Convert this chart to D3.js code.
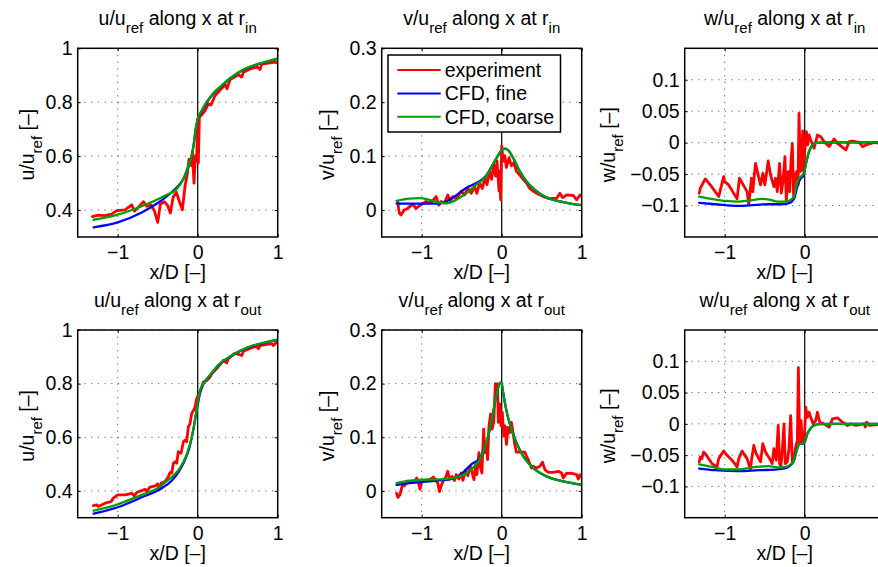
<!DOCTYPE html>
<html><head><meta charset="utf-8">
<script src="https://cdn.jsdelivr.net/npm/d3@7"></script>
<style>
html,body{margin:0;padding:0;background:#fff;overflow:hidden}
svg{display:block;font-family:"Liberation Sans",Arial,Helvetica,sans-serif}
</style></head><body>
<svg id="chart" width="878" height="567"></svg>
<script>
// ---------------- DATA ----------------
const xDomain = [-1.5, 1];
const xTicks = [-1, 0, 1];
const xTickLabels = ["\u22121", "0", "1"];
const uDomain = [0.3, 1];
const uTicks = [0.4, 0.6, 0.8, 1];
const uTickLabels = ["0.4", "0.6", "0.8", "1"];
const vDomain = [-0.05, 0.3];
const vTicks = [0, 0.1, 0.2, 0.3];
const vTickLabels = ["0", "0.1", "0.2", "0.3"];
const wDomain = [-0.15, 0.15];
const wTicks = [-0.1, -0.05, 0, 0.05, 0.1];
const wTickLabels = ["\u22120.1", "\u22120.05", "0", "0.05", "0.1"];
const seriesNames = ["experiment", "CFD, fine", "CFD, coarse"];

// u at r_in
const uInExp = [[-1.317,0.376],[-1.242,0.381],[-1.158,0.379],[-1.075,0.385],[-1.013,0.398],[-0.908,0.401],[-0.825,0.419],[-0.79,0.396],[-0.742,0.41],[-0.679,0.431],[-0.638,0.414],[-0.583,0.419],[-0.542,0.398],[-0.5,0.354],[-0.467,0.422],[-0.417,0.431],[-0.375,0.416],[-0.342,0.389],[-0.308,0.447],[-0.267,0.466],[-0.225,0.428],[-0.192,0.401],[-0.158,0.49],[-0.133,0.528],[-0.108,0.589],[-0.083,0.565],[-0.067,0.614],[-0.046,0.50],[-0.029,0.602],[-0.013,0.583],[0,0.738],[0.008,0.575],[0.021,0.744],[0.05,0.753],[0.092,0.769],[0.133,0.794],[0.167,0.79],[0.217,0.825],[0.3,0.852],[0.35,0.864],[0.367,0.85],[0.404,0.884],[0.508,0.902],[0.55,0.893],[0.571,0.911],[0.675,0.926],[0.75,0.93],[0.779,0.921],[0.8,0.941],[0.904,0.946],[0.967,0.949],[1.0,0.945]];
const uInFine = [[-1.3,0.336],[-1.0,0.354],[-0.7,0.391],[-0.49,0.428],[-0.325,0.466],[-0.242,0.49],[-0.179,0.515],[-0.129,0.552],[-0.075,0.6],[-0.046,0.651],[-0.025,0.701],[0,0.736],[0.05,0.766],[0.11,0.797],[0.2,0.833],[0.3,0.861],[0.4,0.887],[0.55,0.917],[0.758,0.941],[1.0,0.961]];
const uInCoarse = [[-1.3,0.364],[-1.0,0.383],[-0.7,0.414],[-0.41,0.453],[-0.263,0.478],[-0.179,0.515],[-0.129,0.552],[-0.075,0.6],[-0.046,0.651],[-0.025,0.701],[0,0.738],[0.05,0.769],[0.11,0.8],[0.2,0.835],[0.3,0.862],[0.4,0.888],[0.55,0.918],[0.758,0.942],[1.0,0.962]];

// v at r_in
const vInExp = [[-1.301,0.016],[-1.28,-0.006],[-1.259,-0.009],[-1.218,0],[-1.176,0.003],[-1.113,0.011],[-1.071,0.003],[-1.029,0.008],[-0.996,0.011],[-0.946,0.016],[-0.904,0.013],[-0.862,0.017],[-0.82,0.025],[-0.787,0.009],[-0.757,0.016],[-0.715,0.013],[-0.674,0.028],[-0.644,0.017],[-0.611,0.025],[-0.561,0.022],[-0.506,0.035],[-0.464,0.028],[-0.423,0.041],[-0.381,0.031],[-0.339,0.044],[-0.31,0.031],[-0.276,0.05],[-0.243,0.04],[-0.209,0.06],[-0.184,0.047],[-0.151,0.072],[-0.126,0.057],[-0.1,0.085],[-0.075,0.063],[-0.059,0.091],[-0.033,0.035],[-0.025,0.072],[-0.013,0.019],[0,0.119],[0.017,0.091],[0.038,0.101],[0.059,0.079],[0.092,0.097],[0.121,0.082],[0.151,0.088],[0.184,0.072],[0.226,0.065],[0.268,0.057],[0.31,0.05],[0.351,0.04],[0.393,0.035],[0.435,0.031],[0.519,0.025],[0.561,0.023],[0.603,0.021],[0.686,0.022],[0.728,0.031],[0.762,0.023],[0.812,0.028],[0.895,0.027],[0.937,0.019],[0.979,0.028],[1.0,0.025]];
const vInFine = [[-1.314,0.012],[-1.0,0.012],[-0.778,0.012],[-0.695,0.016],[-0.569,0.027],[-0.444,0.041],[-0.318,0.05],[-0.192,0.064],[-0.109,0.085],[-0.046,0.101],[0,0.111],[0.038,0.114],[0.079,0.111],[0.142,0.097],[0.226,0.072],[0.31,0.053],[0.435,0.035],[0.561,0.023],[0.728,0.016],[0.895,0.011],[1.0,0.009]];
const vInCoarse = [[-1.314,0.017],[-1.155,0.021],[-1.029,0.022],[-0.904,0.019],[-0.778,0.014],[-0.695,0.0126],[-0.569,0.019],[-0.444,0.031],[-0.318,0.047],[-0.192,0.063],[-0.109,0.085],[-0.046,0.101],[0,0.111],[0.038,0.114],[0.079,0.111],[0.142,0.097],[0.226,0.072],[0.31,0.053],[0.435,0.035],[0.561,0.023],[0.728,0.016],[0.895,0.011],[1.0,0.009]];

// w at r_in
const wInExp = [[-1.318,-0.0804],[-1.305,-0.0725],[-1.243,-0.0577],[-1.18,-0.0672],[-1.075,-0.0857],[-1.013,-0.054],[-1.0,-0.0619],[-0.95,-0.0672],[-0.845,-0.0894],[-0.816,-0.0566],[-0.791,-0.0619],[-0.72,-0.0778],[-0.699,-0.0979],[-0.665,-0.0566],[-0.649,-0.0778],[-0.615,-0.0328],[-0.582,-0.0513],[-0.552,-0.0672],[-0.523,-0.0487],[-0.498,-0.0672],[-0.456,-0.0291],[-0.427,-0.0513],[-0.385,-0.0698],[-0.364,-0.0566],[-0.343,-0.0778],[-0.314,-0.0328],[-0.293,-0.0804],[-0.272,-0.0619],[-0.247,-0.0222],[-0.23,-0.0926],[-0.205,-0.046],[-0.188,-0.0778],[-0.172,-0.0328],[-0.155,-0.001],[-0.138,-0.0884],[-0.121,-0.0513],[-0.1,-0.046],[-0.084,-0.0672],[-0.071,0.0466],[-0.054,-0.046],[-0.038,-0.0381],[-0.025,0.0185],[-0.013,-0.046],[0,-0.0143],[0.021,0.0175],[0.038,-0.0037],[0.054,0.0122],[0.075,0.0042],[0.117,-0.009],[0.159,0.0122],[0.201,0.0095],[0.243,0.0016],[0.305,-0.0063],[0.368,0.0058],[0.41,-0.0011],[0.515,-0.0116],[0.556,0.0016],[0.598,0.0026],[0.682,0.0005],[0.724,-0.0063],[0.787,-0.0026],[0.87,0.0005],[0.925,-0.0011],[1.0,0.0]];
const wInFine = [[-1.318,-0.0958],[-1.117,-0.0979],[-0.824,-0.1005],[-0.615,-0.0989],[-0.448,-0.0979],[-0.28,-0.0979],[-0.197,-0.0963],[-0.134,-0.0894],[-0.092,-0.0698],[-0.05,-0.0566],[-0.021,-0.054],[-0.004,-0.046],[0.021,-0.0302],[0.054,-0.0143],[0.096,-0.0037],[0.138,-0.0005],[0.264,0.0005],[0.925,0.0005],[1.0,0.0]];
const wInCoarse = [[-1.318,-0.0857],[-1.159,-0.0894],[-0.992,-0.0926],[-0.824,-0.0937],[-0.699,-0.0921],[-0.531,-0.0894],[-0.427,-0.091],[-0.343,-0.0937],[-0.238,-0.0937],[-0.176,-0.091],[-0.134,-0.0857],[-0.105,-0.0698],[-0.071,-0.0566],[-0.038,-0.0529],[-0.004,-0.046],[0.021,-0.0302],[0.054,-0.0143],[0.096,-0.0037],[0.138,-0.0005],[0.264,0.0005],[0.925,0.0005],[1.0,0.0]];

// u at r_out
const uOutExp = [[-1.304,0.345],[-1.263,0.348],[-1.242,0.342],[-1.158,0.354],[-1.083,0.36],[-1.054,0.373],[-1.0,0.385],[-0.908,0.385],[-0.825,0.391],[-0.792,0.381],[-0.763,0.394],[-0.7,0.401],[-0.658,0.406],[-0.638,0.398],[-0.596,0.414],[-0.533,0.419],[-0.5,0.426],[-0.483,0.404],[-0.458,0.428],[-0.408,0.435],[-0.367,0.453],[-0.346,0.468],[-0.325,0.466],[-0.304,0.503],[-0.283,0.509],[-0.263,0.503],[-0.242,0.546],[-0.208,0.54],[-0.179,0.583],[-0.158,0.589],[-0.138,0.583],[-0.117,0.639],[-0.096,0.651],[-0.075,0.689],[-0.05,0.701],[-0.033,0.713],[-0.0125,0.744],[0.017,0.763],[0.042,0.781],[0.071,0.806],[0.1125,0.812],[0.154,0.825],[0.175,0.837],[0.2375,0.856],[0.321,0.887],[0.3625,0.877],[0.383,0.893],[0.467,0.914],[0.55,0.905],[0.571,0.921],[0.675,0.934],[0.7375,0.939],[0.758,0.93],[0.779,0.942],[0.925,0.949],[0.946,0.942],[0.988,0.955]];
const uOutFine = [[-1.3,0.315],[-1.0,0.339],[-0.7,0.376],[-0.45,0.41],[-0.325,0.438],[-0.24,0.47],[-0.16,0.515],[-0.1,0.565],[-0.06,0.62],[-0.025,0.68],[0,0.72],[0.03,0.765],[0.07,0.798],[0.154,0.83],[0.258,0.868],[0.425,0.904],[0.633,0.935],[0.842,0.953],[1.0,0.963]];
const uOutCoarse = [[-1.3,0.326],[-1.0,0.35],[-0.7,0.385],[-0.49,0.412],[-0.386,0.437],[-0.3,0.458],[-0.22,0.486],[-0.137,0.536],[-0.075,0.6],[-0.033,0.664],[-0.004,0.72],[0.03,0.775],[0.07,0.8],[0.154,0.832],[0.258,0.869],[0.425,0.905],[0.633,0.936],[0.842,0.954],[1.0,0.964]];

// v at r_out
const vOutExp = [[-1.314,-0.0044],[-1.297,-0.012],[-1.272,-0.0075],[-1.247,0.0082],[-1.218,0.0094],[-1.188,0.0145],[-1.134,0.0157],[-1.079,0.0176],[-1.063,0.0239],[-1.038,0.0145],[-1.021,0.0031],[-0.996,0.0176],[-0.946,0.0195],[-0.904,0.0208],[-0.854,0.0258],[-0.828,0.0208],[-0.799,0.0145],[-0.778,-0.0013],[-0.757,0.0094],[-0.728,0.0195],[-0.695,0.027],[-0.674,0.0365],[-0.653,0.022],[-0.619,0.027],[-0.59,0.0195],[-0.569,0.0302],[-0.536,0.022],[-0.506,0.0333],[-0.485,0.0195],[-0.452,0.0384],[-0.423,0.0283],[-0.393,0.0459],[-0.368,0.0333],[-0.347,0.0208],[-0.326,0.0491],[-0.31,0.0302],[-0.285,0.0711],[-0.268,0.0459],[-0.247,0.0333],[-0.226,0.1151],[-0.209,0.0711],[-0.192,0.0868],[-0.176,0.0585],[-0.159,0.1214],[-0.138,0.1434],[-0.121,0.1151],[-0.1,0.1277],[-0.079,0.2],[-0.067,0.1843],[-0.054,0.2],[-0.042,0.1277],[-0.025,0.1623],[-0.008,0.1214],[0.008,0.1465],[0.025,0.1025],[0.042,0.1214],[0.059,0.0868],[0.079,0.1182],[0.1,0.1088],[0.121,0.1277],[0.142,0.1088],[0.163,0.0868],[0.184,0.0723],[0.226,0.0723],[0.289,0.0723],[0.31,0.0648],[0.331,0.0585],[0.372,0.0428],[0.393,0.0459],[0.435,0.0428],[0.477,0.0459],[0.51,0.0535],[0.54,0.0396],[0.582,0.0346],[0.644,0.0346],[0.707,0.0365],[0.749,0.0333],[0.77,0.0239],[0.812,0.0333],[0.895,0.0321],[0.937,0.0302],[0.958,0.022],[0.979,0.0302],[1.0,0.027]];
const vOutFine = [[-1.314,0.0113],[-1.155,0.0145],[-0.987,0.017],[-0.778,0.0195],[-0.611,0.023],[-0.485,0.034],[-0.383,0.049],[-0.276,0.061],[-0.192,0.0899],[-0.13,0.1277],[-0.075,0.1717],[-0.042,0.1937],[-0.017,0.2019],[0,0.2],[0.017,0.1843],[0.059,0.1497],[0.121,0.1151],[0.184,0.0899],[0.268,0.0648],[0.393,0.0428],[0.561,0.027],[0.77,0.0176],[1.0,0.0113]];
const vOutCoarse = [[-1.314,0.0145],[-1.155,0.0189],[-0.987,0.0208],[-0.778,0.0214],[-0.611,0.0239],[-0.485,0.0296],[-0.36,0.0428],[-0.276,0.0585],[-0.192,0.0899],[-0.13,0.1277],[-0.075,0.1717],[-0.042,0.1937],[-0.017,0.2019],[0,0.2],[0.017,0.1843],[0.059,0.1497],[0.121,0.1151],[0.184,0.0899],[0.268,0.0648],[0.393,0.0428],[0.561,0.027],[0.77,0.0176],[1.0,0.0113]];

// w at r_out
const wOutExp = [[-1.318,-0.0608],[-1.305,-0.0529],[-1.285,-0.0556],[-1.264,-0.045],[-1.243,-0.0476],[-1.159,-0.0635],[-1.096,-0.0688],[-1.075,-0.0556],[-1.013,-0.0434],[-0.971,-0.0503],[-0.908,-0.0582],[-0.845,-0.0688],[-0.824,-0.0556],[-0.782,-0.0434],[-0.762,-0.0476],[-0.72,-0.0556],[-0.678,-0.073],[-0.665,-0.0582],[-0.636,-0.0344],[-0.607,-0.0476],[-0.552,-0.0608],[-0.523,-0.0317],[-0.49,-0.045],[-0.439,-0.0556],[-0.406,-0.0635],[-0.385,-0.0397],[-0.356,-0.0582],[-0.331,-0.0026],[-0.314,-0.0635],[-0.297,-0.0677],[-0.28,-0.0423],[-0.259,0.0],[-0.243,-0.0635],[-0.218,-0.0608],[-0.197,-0.0397],[-0.176,0.0132],[-0.155,-0.0608],[-0.134,-0.0556],[-0.113,-0.037],[-0.092,-0.0265],[-0.079,0.09],[-0.063,-0.0317],[-0.046,0.0053],[-0.029,-0.0317],[-0.004,-0.0212],[0.013,0.0265],[0.033,0.0106],[0.054,0.0185],[0.075,0.0106],[0.105,0.0],[0.138,0.0053],[0.159,0.0185],[0.188,0.0026],[0.243,0.0],[0.305,-0.0053],[0.347,0.0079],[0.41,0.0095],[0.473,0.0026],[0.536,-0.0026],[0.577,0.0],[0.64,-0.0026],[0.745,0.0],[0.757,-0.0053],[0.774,0.0026],[0.808,-0.0026],[0.925,-0.001],[1.0,0.0]];
const wOutFine = [[-1.318,-0.0714],[-1.117,-0.0741],[-0.824,-0.0757],[-0.573,-0.0741],[-0.364,-0.073],[-0.238,-0.0709],[-0.176,-0.0661],[-0.134,-0.0593],[-0.105,-0.045],[-0.079,-0.0344],[-0.05,-0.0317],[-0.021,-0.0317],[0,-0.0291],[0.033,-0.0159],[0.075,-0.0069],[0.117,-0.0026],[0.18,-0.0005],[0.347,0.0],[1.0,0.0]];
const wOutCoarse = [[-1.318,-0.0646],[-1.159,-0.0688],[-0.992,-0.073],[-0.824,-0.073],[-0.615,-0.0688],[-0.448,-0.0677],[-0.322,-0.0698],[-0.238,-0.0688],[-0.176,-0.0646],[-0.134,-0.0582],[-0.105,-0.045],[-0.079,-0.0344],[-0.05,-0.0317],[-0.021,-0.0317],[0,-0.0291],[0.033,-0.0159],[0.075,-0.0069],[0.117,-0.0026],[0.18,-0.0005],[0.347,0.0],[1.0,0.0]];

// ---------------- DRAWING ----------------
const svg = d3.select("#chart");
const SVG_W = 878;
const FS = 19.5, SUB = 15, SUBDY = 8;
const colors = ["#ff0000", "#0000ff", "#00a000"];
const widths = [2.8, 2.3, 2.3];
const colX = [77.7, 381.7, 684.7];
const rowTop = [48.3, 330];
const rowBot = [237, 517.7];
const PW = 200;

const panels = [
  {r:0,c:0,q:"u",pos:"in", dom:uDomain,ticks:uTicks,labels:uTickLabels,data:[uInExp,uInFine,uInCoarse],ylx:33.5},
  {r:0,c:1,q:"v",pos:"in", dom:vDomain,ticks:vTicks,labels:vTickLabels,data:[vInExp,vInFine,vInCoarse],ylx:333.5,legend:true},
  {r:0,c:2,q:"w",pos:"in", dom:wDomain,ticks:wTicks,labels:wTickLabels,data:[wInExp,wInFine,wInCoarse],ylx:615},
  {r:1,c:0,q:"u",pos:"out",dom:uDomain,ticks:uTicks,labels:uTickLabels,data:[uOutExp,uOutFine,uOutCoarse],ylx:33.5},
  {r:1,c:1,q:"v",pos:"out",dom:vDomain,ticks:vTicks,labels:vTickLabels,data:[vOutExp,vOutFine,vOutCoarse],ylx:333.5},
  {r:1,c:2,q:"w",pos:"out",dom:wDomain,ticks:wTicks,labels:wTickLabels,data:[wOutExp,wOutFine,wOutCoarse],ylx:615}
];

function rich(textSel, parts) {
  let shifted = false;
  parts.forEach(p => {
    const t = textSel.append("tspan").text(p.t);
    if (p.sub) { t.attr("font-size", SUB).attr("dy", SUBDY); shifted = true; }
    else if (shifted) { t.attr("dy", -SUBDY); shifted = false; }
  });
}

panels.forEach((p, i) => {
  const x0 = colX[p.c], y0 = rowTop[p.r], y1 = rowBot[p.r];
  const xs = d3.scaleLinear().domain(xDomain).range([x0, x0 + PW]);
  const ys = d3.scaleLinear().domain(p.dom).range([y1, y0]);
  const g = svg.append("g");

  g.append("clipPath").attr("id", "clip" + i).append("rect")
    .attr("x", x0).attr("y", y0).attr("width", PW).attr("height", y1 - y0);

  // grid
  const grid = g.append("g").attr("stroke", "#555").attr("stroke-width", 0.9)
    .attr("stroke-dasharray", "1.2,5.5");
  xTicks.filter(t => t !== 0).forEach(t => {
    grid.append("line").attr("x1", xs(t)).attr("x2", xs(t)).attr("y1", y0).attr("y2", y1);
  });
  p.ticks.forEach(t => {
    grid.append("line").attr("x1", x0).attr("x2", x0 + PW).attr("y1", ys(t)).attr("y2", ys(t));
  });
  // zero line
  g.append("line").attr("x1", xs(0)).attr("x2", xs(0)).attr("y1", y0).attr("y2", y1)
    .attr("stroke", "#000").attr("stroke-width", 1.2);

  // curves
  const cg = g.append("g").attr("clip-path", `url(#clip${i})`);
  p.data.forEach((d, k) => {
    const line = d3.line().x(v => xs(v[0])).y(v => ys(v[1]))
      .curve(k === 0 ? d3.curveLinear : d3.curveMonotoneX);
    cg.append("path").datum(d).attr("d", line).attr("fill", "none")
      .attr("stroke", colors[k]).attr("stroke-width", widths[k])
      .attr("stroke-linejoin", "round").attr("stroke-linecap", "round");
  });

  // axes (tick labels beyond the visible page are omitted, as in the reference)
  const fam = "'Liberation Sans', Arial, Helvetica, sans-serif";
  const visX = xTicks.filter(t => xs(t) < SVG_W - 2);
  const ax = d3.axisBottom(xs).tickValues(visX).tickFormat(d => xTickLabels[xTicks.indexOf(d)])
    .tickSizeInner(-3).tickSizeOuter(0).tickPadding(8);
  const ay = d3.axisLeft(ys).tickValues(p.ticks).tickFormat((d, j) => p.labels[j])
    .tickSizeInner(-3).tickSizeOuter(0).tickPadding(5);
  const axT = d3.axisTop(xs).tickValues(visX).tickFormat("").tickSizeInner(-3).tickSizeOuter(0);
  const ayR = d3.axisRight(ys).tickValues(p.ticks).tickFormat("").tickSizeInner(-3).tickSizeOuter(0);
  [[ax, `translate(0,${y1})`], [ay, `translate(${x0},0)`], [axT, `translate(0,${y0})`], [ayR, `translate(${x0 + PW},0)`]]
    .forEach(([a, tr]) => {
      const ag = g.append("g").attr("transform", tr).call(a);
      ag.attr("font-size", FS).attr("font-family", fam).style("color", "#000");
      ag.select(".domain").remove();
      ag.selectAll(".tick line").attr("stroke-width", 1);
    });

  // box
  g.append("rect").attr("x", x0).attr("y", y0).attr("width", PW).attr("height", y1 - y0)
    .attr("fill", "none").attr("stroke", "#000").attr("stroke-width", 1.5);

  // title
  const tt = g.append("text").attr("x", x0 + PW / 2).attr("y", y0 - 23.3)
    .attr("text-anchor", "middle").attr("font-size", FS).attr("fill", "#000");
  rich(tt, [{t: p.q + "/u"}, {t: "ref", sub: true}, {t: " along x at r"}, {t: p.pos, sub: true}]);

  // x label
  g.append("text").attr("x", x0 + PW / 2).attr("y", y1 + 42).attr("text-anchor", "middle")
    .attr("font-size", FS).attr("fill", "#000").text("x/D [\u2013]");

  // y label
  const yc = (y0 + y1) / 2 + 2;
  const yl = g.append("text").attr("transform", `translate(${p.ylx},${yc}) rotate(-90)`)
    .attr("text-anchor", "middle").attr("font-size", FS).attr("fill", "#000");
  rich(yl, [{t: p.q + "/u"}, {t: "ref", sub: true}, {t: " [\u2013]"}]);

  // legend
  if (p.legend) {
    const lx = x0 + 6.3, ly = y0 + 6.7, lw = 172.5, lh = 77;
    const lg = g.append("g");
    lg.append("rect").attr("x", lx).attr("y", ly).attr("width", lw).attr("height", lh)
      .attr("fill", "#fff").attr("stroke", "#000").attr("stroke-width", 1.5);
    seriesNames.forEach((name, k) => {
      const yy = ly + 15 + k * 23.4;
      lg.append("line").attr("x1", lx + 9.3).attr("x2", lx + 52.7).attr("y1", yy).attr("y2", yy)
        .attr("stroke", colors[k]).attr("stroke-width", 2);
      lg.append("text").attr("x", lx + 56.7).attr("y", yy).attr("dy", "0.35em")
        .attr("font-size", FS).attr("fill", "#000").text(name);
    });
  }
});
</script>
</body></html>
